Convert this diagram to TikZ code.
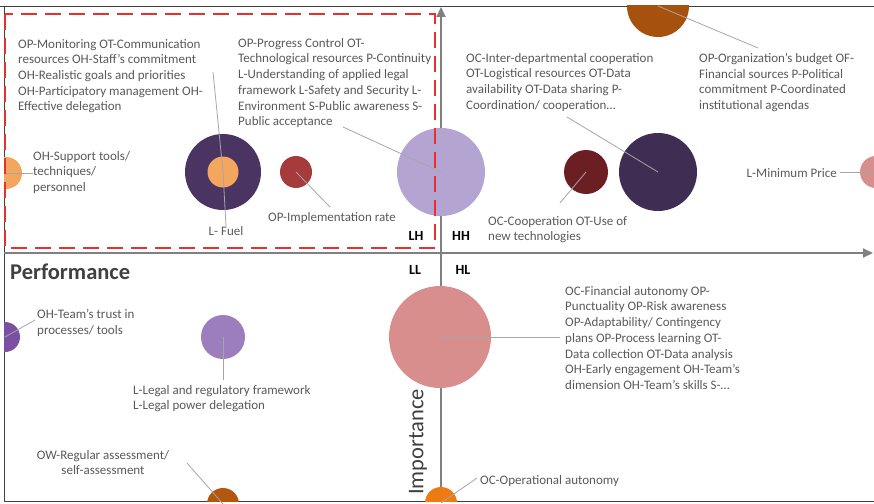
\documentclass[tikz,border=0pt]{standalone}
\usepackage{fontspec}
\setmainfont{Carlito}
\usepackage{tikz}
\usetikzlibrary{arrows.meta}
\definecolor{txtGray}{HTML}{595959}
\definecolor{leadGray}{HTML}{A6A6A6}
\definecolor{axisGray}{HTML}{808080}
\definecolor{frameGray}{HTML}{404040}
\definecolor{dashRed}{HTML}{E8312F}
\definecolor{orSoft}{HTML}{F3A65E}
\definecolor{purpDark}{HTML}{4A3462}
\definecolor{redBrick}{HTML}{A63B3B}
\definecolor{lilac}{HTML}{B4A4D2}
\definecolor{brownOr}{HTML}{A6520E}
\definecolor{maroon}{HTML}{6C1F22}
\definecolor{purpNavy}{HTML}{3F2D53}
\definecolor{rose}{HTML}{D98E8E}
\definecolor{violet}{HTML}{9C7EBE}
\definecolor{purpLeft}{HTML}{7B50A2}
\definecolor{rust}{HTML}{B3560F}
\definecolor{orBright}{HTML}{EE7A14}

\begin{document}
\begin{tikzpicture}[x=1pt, y=-1pt, font=\fontsize{13}{15.7}\selectfont,
  lbl/.style={text=txtGray, align=left, inner sep=0pt, anchor=north west},
  bub/.style={circle, inner sep=0pt, minimum size=#1},
  lead/.style={draw=leadGray, line width=0.8pt},
  quad/.style={font=\fontsize{14}{16}\selectfont\bfseries, text=black, inner sep=0pt},
  axisline/.style={draw=axisGray, line width=2pt, -{Triangle[length=10pt, width=9pt]}}]
  \useasboundingbox (0,0) rectangle (874,503);
  \draw[frameGray, line width=0.8pt] (0,6) -- (874,6);
  \draw[frameGray, line width=0.8pt] (4,6) -- (4,501) -- (874,501);
  \draw[axisline] (441,501) -- (441,7);
  \draw[axisline] (4,253) -- (873,253);
  % bubbles: name/x/y/diameter/colour
  \begin{scope}
    \clip (4,6) rectangle (874,501);
    \foreach \n/\x/\y/\d/\c in {bSupp/6/173/32/orSoft, bFuelOut/223/172/76/purpDark,
        bFuel/223/172/31/orSoft, bImpl/296/172/32/redBrick, bProg/441/172/88/lilac,
        bBudg/658/6/62/brownOr, bCoop/586/172/44/maroon, bInter/658/172/78/purpNavy,
        bMin/876/172/32/rose, bFin/440/337/102/rose, bLegal/223/337/44/violet,
        bTrust/5/337/30/purpLeft, bAssess/223/504/32/rust, bOper/441/503/32/orBright}{
      \node[bub=\d pt, fill=\c] (\n) at (\x,\y) {};}
  \end{scope}
  \draw[dashRed, line width=2.6pt, dash pattern=on 16pt off 8pt] (5,14) rectangle (435,248);
  \node[lbl] (tMonit) at (18,39) {OP-Monitoring OT-Communication\\resources OH-Staff's commitment\\OH-Realistic goals and priorities\\OH-Participatory management OH-\\Effective delegation};
  \node[lbl] (tProg) at (238,38) {OP-Progress Control OT-\\Technological resources P-Continuity\\L-Understanding of applied legal\\framework L-Safety and Security L-\\Environment S-Public awareness S-\\Public acceptance};
  \node[lbl] (tSupp) at (33,151) {OH-Support tools/\\techniques/\\personnel};
  \node[lbl, anchor=center] (tFuel) at (226,231) {L- Fuel};
  \node[lbl, anchor=west] (tImpl) at (268,218) {OP-Implementation rate};
  \node[lbl] (tInter) at (466,53) {OC-Inter-departmental cooperation\\OT-Logistical resources OT-Data\\availability OT-Data sharing P-\\Coordination/ cooperation\ldots};
  \node[lbl] (tBudg) at (699,53) {OP-Organization's budget OF-\\Financial sources P-Political\\commitment P-Coordinated\\institutional agendas};
  \node[lbl] (tCoop) at (488,216) {OC-Cooperation OT-Use of\\new technologies};
  \node[lbl, anchor=east] (tMin) at (837,173) {L-Minimum Price};
  \node[lbl] (tTrust) at (37,309) {OH-Team's trust in\\processes/ tools};
  \node[lbl] (tLegal) at (133,385) {L-Legal and regulatory framework\\L-Legal power delegation};
  \node[lbl, align=center, anchor=north] (tAssess) at (103,450) {OW-Regular assessment/\\self-assessment};
  \node[lbl] (tFin) at (565,286) {OC-Financial autonomy OP-\\Punctuality OP-Risk awareness\\OP-Adaptability/ Contingency\\plans OP-Process learning OT-\\Data collection OT-Data analysis\\OH-Early engagement OH-Team's\\dimension OH-Team's skills S-\ldots};
  \node[lbl, anchor=west] (tOper) at (480,481) {OC-Operational autonomy};
  \coordinate (cSupp) at (33,173);
  \coordinate (cMonit) at (213,72);
  \coordinate (cProg) at (343,127);
  \coordinate (cImpl) at (330,207);
  \coordinate (cInter) at (567,117);
  \coordinate (cBudg) at (758,48);
  \coordinate (cCoop) at (560,203);
  \coordinate (cMin) at (840,172);
  \coordinate (cTrust) at (35,320);
  \coordinate (cLegal) at (223,380);
  \coordinate (cAssess) at (187,463);
  \coordinate (cFin) at (560,337);
  \coordinate (cOper) at (477,478);
  \draw[lead] (bSupp.center) -- (cSupp);
  \draw[lead] (cMonit) -- (bFuel.center);
  \draw[lead] (tFuel.north) -- (bFuel.center);
  \draw[lead] (cProg) -- (bProg.center);
  \draw[lead] (bImpl.center) -- (cImpl);
  \draw[lead] (cInter) -- (bInter.center);
  \draw[lead] (bBudg.center) -- (cBudg);
  \draw[lead] (bCoop.center) -- (cCoop);
  \draw[lead] (cMin) -- (bMin.center);
  \draw[lead] (bTrust.center) -- (cTrust);
  \draw[lead] (bLegal.center) -- (cLegal);
  \draw[lead] (cAssess) -- (bAssess.center);
  \draw[lead] (bFin.center) -- (cFin);
  \draw[lead] (bOper.center) -- (cOper);
  \node[quad] (qLH) at (416,236) {LH};
  \node[quad] (qHH) at (461,236) {HH};
  \node[quad] (qLL) at (415,270) {LL};
  \node[quad] (qHL) at (463,270) {HL};
  \node[font=\fontsize{22.5}{26}\selectfont\bfseries, text=frameGray, anchor=west, inner sep=0pt] (perf) at (10,272) {Performance};
  \node[font=\fontsize{22.5}{26}\selectfont, text=frameGray, rotate=90, anchor=west, inner sep=0pt] (imp) at (418,495) {Importance};
\end{tikzpicture}
\end{document}
